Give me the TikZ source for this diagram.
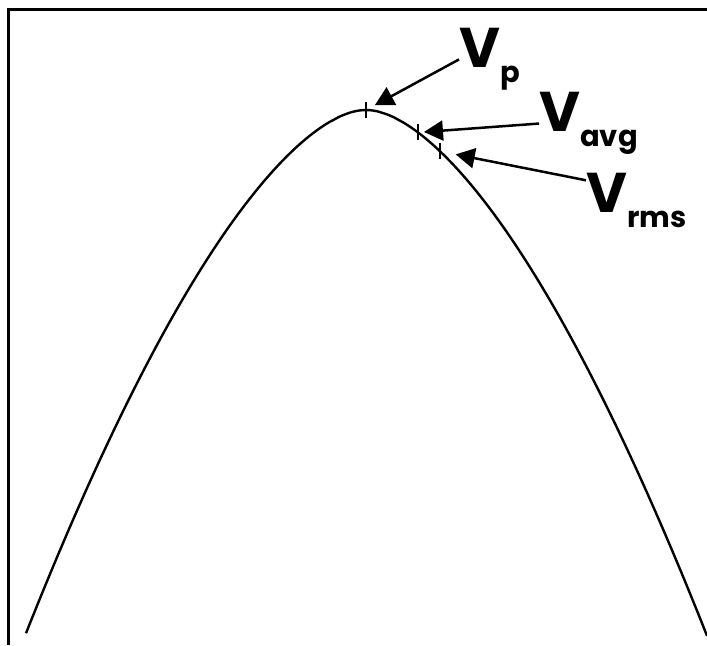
\documentclass[tikz,border=0pt]{standalone}
\usepackage{fontspec}
\setmainfont{Poppins}
\usetikzlibrary{arrows.meta}

\newcommand{\volt}[1]{V\raisebox{-7.5pt}{\fontsize{14.5}{14.5}\selectfont #1}}

\begin{document}
\begin{tikzpicture}[x=0.5pt,y=-0.5pt,
  declare function={wavey(\t)=110+71.7*((((\t-366)/100)^2+0.04)^0.815-0.0726);},
  lbl/.style={font=\fontsize{28}{28}\selectfont\bfseries,inner sep=0pt,anchor=north west},
  pointer/.style={line width=1.25pt,-{Triangle[length=9.5pt,width=10pt]}},
  tickmark/.style={line width=1.1pt}]
  \useasboundingbox (0,0) rectangle (707,645);
  % frame: top and left only
  \draw[line width=1.5pt] (707,9) -- (8,9) -- (8,645);
  % the wave
  \draw[line width=1.2pt] plot[domain=26:707,samples=160,smooth] (\x,{wavey(\x)});
  % marks on the wave
  \foreach \n/\t in {pk/366,avg/418,rms/440} {
    \coordinate (\n) at (\t,{wavey(\t)});
    \draw[tickmark] (\t,{wavey(\t)-8}) -- (\t,{wavey(\t)+8});
  }
  \node[lbl] (vp) at (459,28) {\volt{p}};
  \node[lbl] (vavg) at (539,92) {\volt{avg}};
  \node[lbl] (vrms) at (586,173) {\volt{rms}};
  \draw[pointer,shorten >=5pt] (vp.west) -- (pk);
  \draw[pointer,shorten >=3pt] (vavg.west) -- (avg);
  \draw[pointer,shorten >=8pt] (vrms.158) -- (rms);
\end{tikzpicture}
\end{document}
